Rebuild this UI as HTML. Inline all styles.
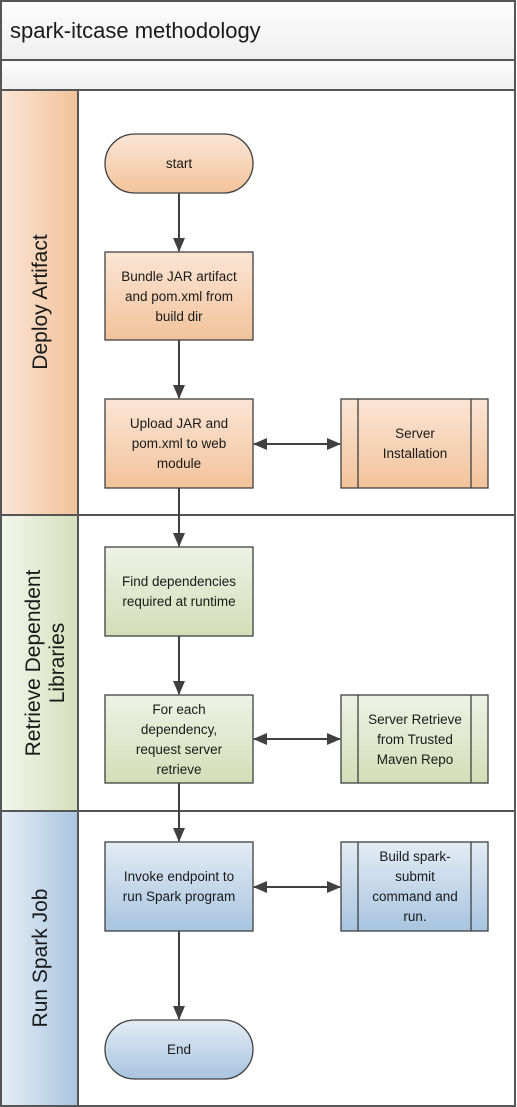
<!DOCTYPE html>
<html><head><meta charset="utf-8"><style>
html,body{margin:0;padding:0;background:#fff}
svg{display:block}
text{font-family:"Liberation Sans",sans-serif;fill:#1a1a1a}
</style></head><body>
<svg width="517" height="1107" viewBox="0 0 517 1107" xmlns="http://www.w3.org/2000/svg">
<defs>
<linearGradient id="hdr" x1="0" y1="0" x2="0" y2="1"><stop offset="0" stop-color="#fdfdfd"/><stop offset="1" stop-color="#efefef"/></linearGradient>
<linearGradient id="oL" x1="0" y1="0" x2="1" y2="0"><stop offset="0" stop-color="#fbe6d6"/><stop offset="1" stop-color="#f2c29a"/></linearGradient>
<linearGradient id="gL" x1="0" y1="0" x2="1" y2="0"><stop offset="0" stop-color="#f3f6ec"/><stop offset="1" stop-color="#d5dfbb"/></linearGradient>
<linearGradient id="bL" x1="0" y1="0" x2="1" y2="0"><stop offset="0" stop-color="#e6eef6"/><stop offset="1" stop-color="#a9c5e0"/></linearGradient>
<linearGradient id="oB" x1="0" y1="0" x2="0" y2="1"><stop offset="0" stop-color="#fbe5d5"/><stop offset="1" stop-color="#f2c39b"/></linearGradient>
<linearGradient id="gB" x1="0" y1="0" x2="0" y2="1"><stop offset="0" stop-color="#eef2e5"/><stop offset="1" stop-color="#d3deb8"/></linearGradient>
<linearGradient id="bB" x1="0" y1="0" x2="0" y2="1"><stop offset="0" stop-color="#e3ecf5"/><stop offset="1" stop-color="#a8c4df"/></linearGradient>
<marker id="ah" markerWidth="14" markerHeight="14" refX="13" refY="7" orient="auto-start-reverse" markerUnits="userSpaceOnUse"><path d="M0,1 L14,7 L0,13 Z" fill="#404040"/></marker>
</defs>
<rect x="1" y="1" width="514" height="59" fill="url(#hdr)" stroke="#555" stroke-width="2"/>
<text x="10" y="38" font-size="22">spark-itcase methodology</text>
<rect x="1" y="60" width="514" height="30" fill="url(#hdr)" stroke="#555" stroke-width="2"/>
<rect x="1" y="90" width="77" height="425" fill="url(#oL)" stroke="#555" stroke-width="2"/>
<rect x="78" y="90" width="437" height="425" fill="#fff" stroke="#555" stroke-width="2"/>
<rect x="1" y="515" width="77" height="296" fill="url(#gL)" stroke="#555" stroke-width="2"/>
<rect x="78" y="515" width="437" height="296" fill="#fff" stroke="#555" stroke-width="2"/>
<rect x="1" y="811" width="77" height="295" fill="url(#bL)" stroke="#555" stroke-width="2"/>
<rect x="78" y="811" width="437" height="295" fill="#fff" stroke="#555" stroke-width="2"/>
<text transform="translate(47,302) rotate(-90)" text-anchor="middle" font-size="21">Deploy Artifact</text>
<text transform="translate(40,663) rotate(-90)" text-anchor="middle" font-size="21">Retrieve Dependent</text>
<text transform="translate(64,663) rotate(-90)" text-anchor="middle" font-size="21">Libraries</text>
<text transform="translate(47,958) rotate(-90)" text-anchor="middle" font-size="21">Run Spark Job</text>
<g stroke="#404040" stroke-width="2" fill="none">
<line x1="179" y1="193" x2="179" y2="251" marker-end="url(#ah)"/>
<line x1="179" y1="340" x2="179" y2="398" marker-end="url(#ah)"/>
<line x1="179" y1="488" x2="179" y2="546" marker-end="url(#ah)"/>
<line x1="179" y1="636" x2="179" y2="694" marker-end="url(#ah)"/>
<line x1="179" y1="783" x2="179" y2="841" marker-end="url(#ah)"/>
<line x1="179" y1="931" x2="179" y2="1019" marker-end="url(#ah)"/>
<line x1="254" y1="444" x2="340" y2="444" marker-start="url(#ah)" marker-end="url(#ah)"/>
<line x1="254" y1="739" x2="340" y2="739" marker-start="url(#ah)" marker-end="url(#ah)"/>
<line x1="254" y1="887" x2="340" y2="887" marker-start="url(#ah)" marker-end="url(#ah)"/>
</g>
<g stroke="#404040" stroke-width="1.3">
<rect x="105" y="134" width="148" height="59" rx="29.5" fill="url(#oB)"/>
<rect x="105" y="252" width="148" height="88" fill="url(#oB)"/>
<rect x="105" y="399" width="148" height="89" fill="url(#oB)"/>
<rect x="341" y="399" width="147" height="89" fill="url(#oB)"/>
<line x1="358" y1="399" x2="358" y2="488"/><line x1="471" y1="399" x2="471" y2="488"/>
<rect x="105" y="547" width="148" height="89" fill="url(#gB)"/>
<rect x="105" y="695" width="148" height="88" fill="url(#gB)"/>
<rect x="341" y="695" width="147" height="88" fill="url(#gB)"/>
<line x1="358" y1="695" x2="358" y2="783"/><line x1="471" y1="695" x2="471" y2="783"/>
<rect x="105" y="842" width="148" height="89" fill="url(#bB)"/>
<rect x="341" y="842" width="147" height="89" fill="url(#bB)"/>
<line x1="358" y1="842" x2="358" y2="931"/><line x1="471" y1="842" x2="471" y2="931"/>
<rect x="105" y="1020" width="148" height="59" rx="29.5" fill="url(#bB)"/>
</g>
<g font-size="13.5" text-anchor="middle">
<text x="179" y="168">start</text>
<text x="179" y="281">Bundle JAR artifact</text><text x="179" y="301">and pom.xml from</text><text x="179" y="321">build dir</text>
<text x="179" y="428">Upload JAR and</text><text x="179" y="448">pom.xml to web</text><text x="179" y="468">module</text>
<text x="415" y="438">Server</text><text x="415" y="458">Installation</text>
<text x="179" y="586">Find dependencies</text><text x="179" y="606">required at runtime</text>
<text x="179" y="714">For each</text><text x="179" y="734">dependency,</text><text x="179" y="754">request server</text><text x="179" y="774">retrieve</text>
<text x="415" y="724">Server Retrieve</text><text x="415" y="744">from Trusted</text><text x="415" y="764">Maven Repo</text>
<text x="179" y="881">Invoke endpoint to</text><text x="179" y="901">run Spark program</text>
<text x="415" y="861">Build spark-</text><text x="415" y="881">submit</text><text x="415" y="901">command and</text><text x="415" y="921">run.</text>
<text x="179" y="1054">End</text>
</g>
</svg>
</body></html>
